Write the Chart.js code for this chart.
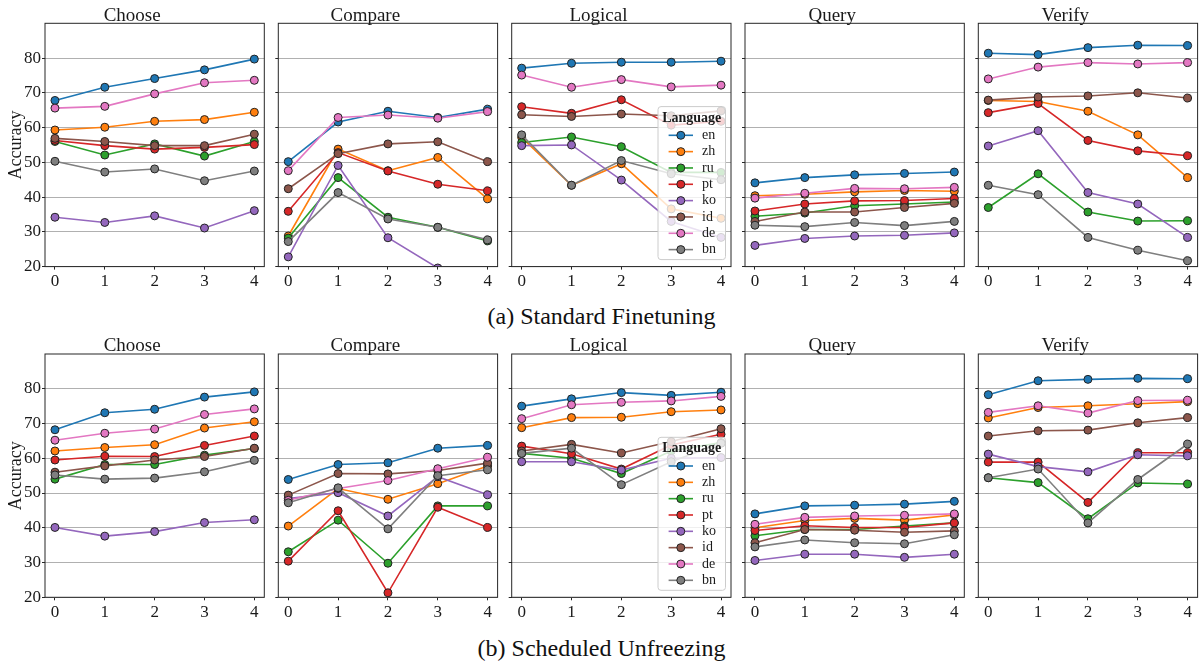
<!DOCTYPE html>
<html>
<head>
<meta charset="utf-8">
<script src="https://cdn.jsdelivr.net/npm/chart.js@4.4.0/dist/chart.umd.min.js"></script>
<style>
  body { margin: 0; background: #fff; width: 1203px; height: 661px; position: relative; overflow: hidden; font-family: "Liberation Serif", serif; }
  canvas { position: absolute; }
  .cap { position: absolute; left: 0; width: 1203px; text-align: center; font-size: 24px; line-height: 26px; color: #111; }
</style>
</head>
<body>
<div class="cap" style="top:303px">(a) Standard Finetuning</div>
<div class="cap" style="top:635px">(b) Scheduled Unfreezing</div>
<script>
// Languages (same order in every array below)
const langs = ["en", "zh", "ru", "pt", "ko", "id", "de", "bn"];
const colors = ["#1f77b4", "#ff7f0e", "#2ca02c", "#d62728", "#9467bd", "#8c564b", "#e377c2", "#7f7f7f"];
const tasks = ["Choose", "Compare", "Logical", "Query", "Verify"];
const steps = [0, 1, 2, 3, 4];
const yTicks = [20, 30, 40, 50, 60, 70, 80];

// (a) Standard Finetuning
const stdChoose = [
  [67.8, 71.6, 74.1, 76.6, 79.7],
  [59.3, 60.1, 61.8, 62.3, 64.4],
  [56.0, 52.1, 55.3, 51.8, 56.0],
  [56.3, 54.8, 53.8, 54.3, 55.1],
  [34.2, 32.7, 34.6, 31.1, 36.1],
  [56.9, 56.0, 54.8, 54.8, 58.1],
  [65.6, 66.1, 69.7, 72.9, 73.6],
  [50.3, 47.2, 48.1, 44.7, 47.5]
];
const stdCompare = [
  [50.2, 61.6, 64.7, 62.9, 65.3],
  [28.8, 53.8, 47.6, 51.4, 39.5],
  [28.2, 45.6, 34.2, 31.3, 27.4],
  [35.9, 52.8, 47.5, 43.7, 41.8],
  [22.8, 49.1, 28.3, 19.6, 12.0],
  [42.4, 52.5, 55.3, 55.9, 50.2],
  [47.6, 62.9, 63.6, 62.7, 64.6],
  [27.2, 41.3, 33.7, 31.3, 27.7]
];
const stdLogical = [
  [77.1, 78.5, 78.8, 78.8, 79.1],
  [57.2, 43.4, 49.6, 36.6, 33.9],
  [55.7, 57.3, 54.5, 47.1, 47.1],
  [66.0, 64.1, 68.0, 60.7, 61.8],
  [54.8, 55.0, 44.9, 33.0, 28.4],
  [63.7, 63.2, 63.9, 63.4, 64.8],
  [75.1, 71.6, 73.8, 71.7, 72.2],
  [57.9, 43.4, 50.5, 46.7, 45.0]
];
const stdQuery = [
  [44.1, 45.6, 46.4, 46.8, 47.2],
  [40.4, 40.8, 41.5, 41.9, 41.7],
  [34.5, 35.4, 37.5, 38.0, 38.6],
  [36.0, 38.0, 38.9, 39.0, 39.6],
  [26.1, 28.1, 28.8, 29.0, 29.7],
  [33.0, 35.7, 35.7, 37.0, 38.2],
  [39.7, 41.1, 42.5, 42.4, 42.8],
  [31.9, 31.5, 32.7, 31.8, 33.0]
];
const stdVerify = [
  [81.4, 81.0, 83.0, 83.7, 83.6],
  [67.8, 67.5, 64.7, 57.9, 45.6],
  [37.0, 46.7, 35.7, 33.1, 33.2],
  [64.3, 66.9, 56.3, 53.3, 51.9],
  [54.7, 59.1, 41.3, 38.0, 28.4],
  [67.9, 68.8, 69.1, 70.0, 68.5],
  [74.0, 77.4, 78.7, 78.3, 78.7],
  [43.4, 40.7, 28.4, 24.7, 21.7]
];

// (b) Scheduled Unfreezing
const schChoose = [
  [68.2, 73.1, 74.1, 77.6, 79.1],
  [62.1, 63.1, 63.9, 68.7, 70.5],
  [54.0, 58.2, 58.2, 60.9, 62.8],
  [59.5, 60.6, 60.5, 63.7, 66.4],
  [40.1, 37.6, 38.9, 41.5, 42.3],
  [56.0, 57.8, 59.5, 60.5, 62.9],
  [65.2, 67.2, 68.4, 72.6, 74.2],
  [55.2, 54.0, 54.3, 56.1, 59.4]
];
const schCompare = [
  [53.9, 58.2, 58.7, 62.9, 63.7],
  [40.5, 51.3, 48.2, 52.7, 57.8],
  [33.1, 42.2, 29.8, 46.3, 46.3],
  [30.4, 44.9, 21.3, 45.9, 40.1],
  [48.4, 50.1, 43.4, 54.7, 49.5],
  [49.4, 55.6, 55.5, 56.5, 58.6],
  [47.9, 51.3, 53.6, 57.0, 60.3],
  [47.2, 51.5, 39.7, 55.0, 56.7]
];
const schLogical = [
  [75.0, 77.1, 78.9, 78.1, 79.0],
  [68.8, 71.7, 71.8, 73.4, 73.9],
  [61.4, 60.0, 55.6, 62.1, 64.5],
  [63.5, 61.3, 56.9, 63.8, 66.9],
  [59.0, 59.0, 56.6, 60.0, 60.2],
  [62.1, 64.0, 61.5, 64.8, 68.5],
  [71.4, 75.4, 76.1, 76.5, 77.8],
  [61.4, 62.9, 52.4, 59.0, 64.3]
];
const schQuery = [
  [44.0, 46.3, 46.5, 46.8, 47.6],
  [40.0, 42.1, 42.7, 42.2, 43.7],
  [37.7, 39.5, 39.5, 40.5, 41.4],
  [39.2, 40.6, 40.1, 40.1, 41.4],
  [30.6, 32.4, 32.4, 31.5, 32.4],
  [35.7, 39.5, 39.3, 38.7, 39.1],
  [41.0, 43.0, 43.4, 43.6, 44.0],
  [34.5, 36.5, 35.7, 35.4, 38.0]
];
const schVerify = [
  [78.3, 82.3, 82.7, 83.0, 82.9],
  [71.6, 74.6, 75.1, 75.7, 76.3],
  [54.4, 53.0, 42.6, 52.9, 52.6],
  [58.9, 58.9, 47.3, 61.6, 61.6],
  [61.2, 57.6, 56.1, 61.0, 60.7],
  [66.4, 67.9, 68.1, 70.2, 71.7],
  [73.2, 75.1, 73.0, 76.6, 76.7],
  [54.4, 56.9, 41.4, 53.9, 64.1]
];

const rows = [
  [stdChoose, stdCompare, stdLogical, stdQuery, stdVerify],
  [schChoose, schCompare, schLogical, schQuery, schVerify]
];

// layout of the grid (plot areas in page pixels)
const plotLefts = [45, 278.3, 511.7, 745, 978.3];
const rowTops = [23.3, 354];
const plotW = 219.3, plotH = 243.3;
const serif = "'Liberation Serif', 'DejaVu Serif', serif";
const ink = "#1a1a1a";

Chart.defaults.font.family = serif;

// top and right spines like matplotlib
const framePlugin = {
  id: "frame",
  afterDatasetsDraw(chart) {
    const { ctx, chartArea: a } = chart;
    ctx.save();
    ctx.strokeStyle = "#262626";
    ctx.lineWidth = 1;
    ctx.strokeRect(a.left, a.top, a.right - a.left, a.bottom - a.top);
    ctx.restore();
  }
};

// legend box in the lower right of the plot area
const legendPlugin = {
  id: "langLegend",
  afterDraw(chart, args, opts) {
    if (!opts.show) return;
    const { ctx, chartArea: a } = chart;
    const w = 67.5, h = 153;
    const x = a.right - 5.5 - w, y = a.bottom - 7 - h;
    ctx.save();
    ctx.beginPath();
    ctx.roundRect(x, y, w, h, 3);
    ctx.fillStyle = "rgba(255,255,255,0.8)";
    ctx.fill();
    ctx.strokeStyle = "#cccccc";
    ctx.lineWidth = 1;
    ctx.stroke();
    ctx.fillStyle = ink;
    ctx.textBaseline = "middle";
    ctx.textAlign = "center";
    ctx.font = "bold 14px " + serif;
    ctx.fillText("Language", x + w / 2, y + 11.5);
    ctx.textAlign = "left";
    ctx.font = "14px " + serif;
    chart.data.datasets.forEach((ds, i) => {
      const ey = y + 28.7 + i * 16.33;
      ctx.strokeStyle = ds.borderColor;
      ctx.lineWidth = 1.6;
      ctx.beginPath();
      ctx.moveTo(x + 10.6, ey);
      ctx.lineTo(x + 35, ey);
      ctx.stroke();
      ctx.beginPath();
      ctx.arc(x + 22.8, ey, 4, 0, Math.PI * 2);
      ctx.fillStyle = ds.borderColor;
      ctx.fill();
      ctx.strokeStyle = "#222";
      ctx.lineWidth = 1;
      ctx.stroke();
      ctx.fillStyle = ink;
      ctx.fillText(ds.label, x + 44, ey);
    });
    ctx.restore();
  }
};

const titleLine = 0.9, titleSize = 19;
const titlePad = { top: 1.5, bottom: -1.05 };
const titleH = titleSize * titleLine + titlePad.top + titlePad.bottom;

rows.forEach((row, r) => row.forEach((vals, c) => {
  const cv = document.createElement("canvas");
  const cl = Math.floor(plotLefts[c] - 45);
  const ct = Math.floor(rowTops[r] - 28);
  const yW = plotLefts[c] - cl;
  const topSpace = rowTops[r] - ct;
  const xH = 30;
  const W = Math.ceil(yW + plotW + 6);
  const H = Math.ceil(topSpace + plotH + xH);
  cv.width = W;
  cv.height = H;
  cv.style.left = cl + "px";
  cv.style.top = ct + "px";
  document.body.appendChild(cv);

  new Chart(cv, {
    type: "line",
    data: {
      labels: steps,
      datasets: langs.map((l, i) => ({
        label: l,
        data: vals[i],
        borderColor: colors[i],
        backgroundColor: colors[i],
        pointBackgroundColor: colors[i],
        pointBorderColor: "#222",
        pointBorderWidth: 1,
        pointRadius: 4,
        borderWidth: 1.6,
        tension: 0,
        clip: 0,
        order: langs.length - 1 - i
      }))
    },
    options: {
      responsive: false,
      animation: false,
      devicePixelRatio: 1,
      layout: {
        padding: { top: topSpace - titleH, left: 0, right: W - yW - plotW, bottom: H - topSpace - plotH - xH }
      },
      plugins: {
        legend: { display: false },
        tooltip: { enabled: false },
        title: {
          display: true,
          text: tasks[c],
          color: ink,
          font: { size: titleSize, weight: "normal", lineHeight: titleLine },
          padding: titlePad
        },
        langLegend: { show: c === 2 }
      },
      scales: {
        x: {
          type: "linear",
          min: -0.2,
          max: 4.2,
          afterBuildTicks: s => { s.ticks = steps.map(v => ({ value: v })); },
          afterFit: s => { s.height = xH; },
          border: { display: false },
          grid: { drawOnChartArea: false, drawTicks: true, tickLength: 3, tickColor: "#262626" },
          ticks: { color: ink, font: { size: 17 }, padding: 2, maxRotation: 0 }
        },
        y: {
          min: 20,
          max: 90,
          afterBuildTicks: s => { s.ticks = yTicks.map(v => ({ value: v })); },
          afterFit: s => { s.width = yW; },
          border: { display: false },
          grid: { color: "#b0b0b0", lineWidth: 1, drawTicks: true, tickLength: 3, tickColor: "#262626" },
          ticks: { display: c === 0, color: ink, font: { size: 17 }, padding: 1 },
          title: { display: c === 0, text: "Accuracy", color: ink, font: { size: 18 }, padding: { top: 5, bottom: 0 } }
        }
      }
    },
    plugins: [framePlugin, legendPlugin]
  });
}));
</script>
</body>
</html>
